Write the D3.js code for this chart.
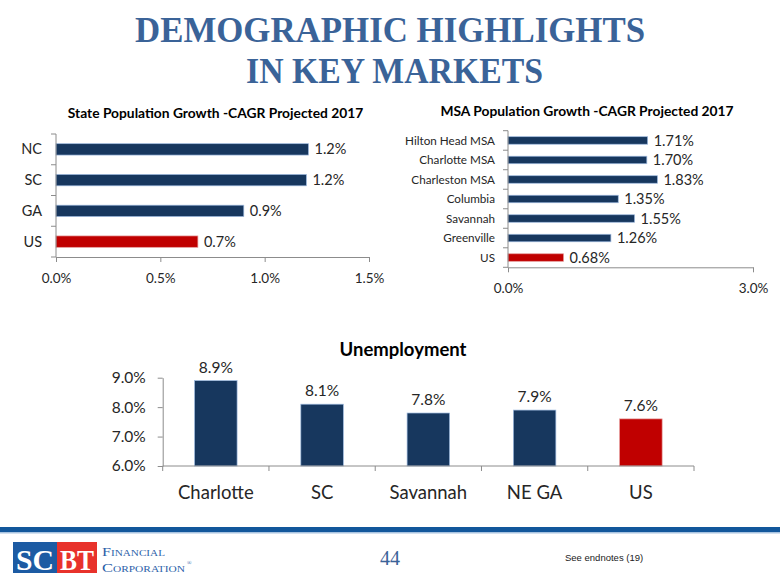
<!DOCTYPE html>
<html>
<head>
<meta charset="utf-8">
<script src="https://cdn.jsdelivr.net/npm/d3@7"></script>
<style>
  html, body { margin: 0; padding: 0; background: #fff; }
  svg { display: block; }
</style>
</head>
<body>
<svg id="chart" width="780" height="585"></svg>
<script>
// ---------- DATA ----------
const stateCats = ["NC", "SC", "GA", "US"];
const stateVals = [1.21, 1.20, 0.90, 0.68];
const stateTicks = [0, 0.5, 1.0, 1.5];

const msaCats = ["Hilton Head MSA", "Charlotte MSA", "Charleston MSA", "Columbia", "Savannah", "Greenville", "US"];
const msaVals = [1.71, 1.70, 1.83, 1.35, 1.55, 1.26, 0.68];
const msaTicks = [0, 3.0];

const unempCats = ["Charlotte", "SC", "Savannah", "NE GA", "US"];
const unempVals = [8.9, 8.1, 7.8, 7.9, 7.6];
const unempTicks = [6, 7, 8, 9];

const highlightCat = "US";

// ---------- STYLE ----------
const NAVY = "#17375e", NAVY_EDGE = "#9db9de";
const RED = "#c00000", RED_EDGE = "#e59a9a";
const AXIS = "#8c8c8c";
const TXT = "#262626";
const FONT = "Lato, 'Open Sans', sans-serif";
const TITLE_BLUE = "#3a6398";

const svg = d3.select("#chart");

// ---------- PAGE TITLE ----------
const titleG = svg.append("g").attr("font-family", "'Liberation Serif', 'Times New Roman', serif")
  .attr("font-weight", "bold").attr("fill", TITLE_BLUE).attr("text-anchor", "middle").attr("font-size", 35);
titleG.append("text").attr("x", 390).attr("y", 42)
  .attr("textLength", 510).attr("lengthAdjust", "spacingAndGlyphs").text("DEMOGRAPHIC HIGHLIGHTS");
titleG.append("text").attr("x", 394.5).attr("y", 83)
  .attr("textLength", 297).attr("lengthAdjust", "spacingAndGlyphs").text("IN KEY MARKETS");

const pct1 = d3.format(".1f");
const pct2 = d3.format(".2f");

function barColor(c) { return c === highlightCat ? RED : NAVY; }
function edgeColor(c) { return c === highlightCat ? RED_EDGE : NAVY_EDGE; }

// ---------- horizontal bar chart helper ----------
function hBar(opts) {
  const g = svg.append("g");
  const x = d3.scaleLinear().domain(opts.domain).range([opts.x0, opts.x1]);
  const y = d3.scaleBand().domain(opts.cats).range([opts.y0, opts.y1])
    .paddingInner(opts.pad).paddingOuter(opts.pad / 2);
  const data = opts.cats.map((c, i) => ({ c, v: opts.vals[i] }));

  // title
  g.append("text").attr("x", opts.titleX).attr("y", opts.titleY)
    .attr("text-anchor", "middle").attr("font-family", FONT).attr("font-weight", "bold")
    .attr("font-size", opts.titleSize).attr("fill", "#000").text(opts.title);

  // bars
  g.selectAll("rect.bar").data(data).join("rect")
    .attr("x", x(0)).attr("y", d => y(d.c))
    .attr("width", d => x(d.v) - x(0)).attr("height", y.bandwidth())
    .attr("fill", d => barColor(d.c)).attr("stroke", d => edgeColor(d.c)).attr("stroke-width", 0.7);

  // value labels
  g.selectAll("text.val").data(data).join("text")
    .attr("x", d => x(d.v) + 6).attr("y", d => y(d.c) + y.bandwidth() / 2)
    .attr("dy", "0.35em").attr("font-family", FONT).attr("font-size", opts.valSize)
    .attr("fill", TXT).text(d => opts.fmt(d.v) + "%");

  // y axis line and boundary ticks
  g.append("line").attr("x1", x(0)).attr("x2", x(0)).attr("y1", opts.y0).attr("y2", opts.y1)
    .attr("stroke", AXIS).attr("stroke-width", 1);
  const step = y.step();
  g.selectAll("line.bt").data(d3.range(opts.cats.length + 1)).join("line")
    .attr("x1", x(0) - 5).attr("x2", x(0))
    .attr("y1", i => opts.y0 + i * step).attr("y2", i => opts.y0 + i * step)
    .attr("stroke", AXIS);
  // category labels
  g.selectAll("text.cat").data(data).join("text")
    .attr("x", opts.labelX).attr("y", d => y(d.c) + y.bandwidth() / 2)
    .attr("dy", "0.35em").attr("text-anchor", "end").attr("font-family", FONT)
    .attr("font-size", opts.catSize).attr("fill", TXT).text(d => d.c);

  // x axis
  const ax = g.append("g").attr("transform", `translate(0,${opts.y1})`)
    .call(d3.axisBottom(x).tickValues(opts.ticks).tickSize(5).tickSizeOuter(0)
      .tickFormat(d => d3.format(".1f")(d) + "%"));
  ax.select(".domain").attr("stroke", AXIS);
  ax.selectAll(".tick line").attr("stroke", AXIS);
  ax.selectAll(".tick text").attr("font-family", FONT).attr("font-size", opts.tickSize)
    .attr("fill", TXT).attr("dy", null).attr("y", opts.tickY - opts.y1).attr("dominant-baseline", "central");
}

hBar({
  cats: stateCats, vals: stateVals, ticks: stateTicks, domain: [0, 1.5],
  x0: 56, x1: 369, y0: 134, y1: 257, pad: 0.63,
  title: "State Population Growth -CAGR Projected 2017", titleX: 215.5, titleY: 118, titleSize: 13.8,
  valSize: 14.5, catSize: 14.5, labelX: 42, tickSize: 13.5, tickY: 278, fmt: pct1
});

hBar({
  cats: msaCats, vals: msaVals, ticks: msaTicks, domain: [0, 3.0],
  x0: 508, x1: 753, y0: 130.7, y1: 267.3, pad: 0.615,
  title: "MSA Population Growth -CAGR Projected 2017", titleX: 587, titleY: 116, titleSize: 13.8,
  valSize: 14.5, catSize: 11.7, labelX: 495, tickSize: 13.5, tickY: 288, fmt: pct2
});

// ---------- UNEMPLOYMENT ----------
(function () {
  const g = svg.append("g");
  const x = d3.scaleBand().domain(unempCats).range([162.7, 694]).paddingInner(0.6).paddingOuter(0.3);
  const y = d3.scaleLinear().domain([6, 9]).range([466, 377.7]);
  const data = unempCats.map((c, i) => ({ c, v: unempVals[i] }));

  g.append("text").attr("x", 403).attr("y", 356).attr("text-anchor", "middle")
    .attr("font-family", FONT).attr("font-weight", "bold").attr("font-size", 18.5)
    .attr("fill", "#000").text("Unemployment");

  g.selectAll("rect").data(data).join("rect")
    .attr("x", d => x(d.c)).attr("width", x.bandwidth())
    .attr("y", d => y(d.v)).attr("height", d => y(6) - y(d.v))
    .attr("fill", d => barColor(d.c)).attr("stroke", d => edgeColor(d.c)).attr("stroke-width", 0.7);

  g.selectAll("text.val").data(data).join("text")
    .attr("x", d => x(d.c) + x.bandwidth() / 2).attr("y", d => y(d.v) - 14)
    .attr("text-anchor", "middle").attr("dominant-baseline", "central")
    .attr("font-family", FONT).attr("font-size", 15.5).attr("fill", TXT)
    .text(d => pct1(d.v) + "%");

  const ay = g.append("g").attr("transform", "translate(162.7,0)")
    .call(d3.axisLeft(y).tickValues(unempTicks).tickSize(5).tickSizeOuter(0)
      .tickFormat(d => d3.format(".1f")(d) + "%"));
  ay.select(".domain").attr("stroke", AXIS);
  ay.selectAll(".tick line").attr("stroke", AXIS);
  ay.selectAll(".tick text").attr("font-family", FONT).attr("font-size", 15.5).attr("fill", TXT)
    .attr("x", -17);

  // x axis line + boundary ticks
  g.append("line").attr("x1", 162.7).attr("x2", 694).attr("y1", y(6)).attr("y2", y(6)).attr("stroke", AXIS);
  const step = x.step();
  g.selectAll("line.bt").data(d3.range(unempCats.length + 1)).join("line")
    .attr("x1", i => 162.7 + i * step).attr("x2", i => 162.7 + i * step)
    .attr("y1", y(6)).attr("y2", y(6) + 5).attr("stroke", AXIS);

  g.selectAll("text.cat").data(data).join("text")
    .attr("x", d => x(d.c) + x.bandwidth() / 2).attr("y", 492)
    .attr("text-anchor", "middle").attr("dominant-baseline", "central")
    .attr("font-family", FONT).attr("font-size", 18.5).attr("fill", TXT).text(d => d.c);
})();

// ---------- FOOTER ----------
svg.append("rect").attr("x", 0).attr("y", 527).attr("width", 780).attr("height", 5).attr("fill", "#12579b");
svg.append("rect").attr("x", 0).attr("y", 532).attr("width", 780).attr("height", 1.5).attr("fill", "#a8c3e0");

const logo = svg.append("g");
logo.append("rect").attr("x", 13).attr("y", 542).attr("width", 44).attr("height", 31).attr("fill", "#1c5ba3");
logo.append("rect").attr("x", 57).attr("y", 542).attr("width", 40).attr("height", 31).attr("fill", "#e8322b");
logo.append("text").attr("x", 16).attr("y", 570).attr("font-family", "'Liberation Serif', serif")
  .attr("font-weight", "bold").attr("font-size", 30).attr("fill", "#fff")
  .attr("textLength", 38).attr("lengthAdjust", "spacingAndGlyphs").text("SC");
logo.append("text").attr("x", 60).attr("y", 570).attr("font-family", "'Liberation Serif', serif")
  .attr("font-weight", "bold").attr("font-size", 30).attr("fill", "#fff")
  .attr("textLength", 34).attr("lengthAdjust", "spacingAndGlyphs").text("BT");
logo.append("text").attr("x", 102).attr("y", 556).attr("font-family", "'Liberation Serif', serif")
  .attr("font-size", 13).attr("fill", "#2a5ea8").style("font-variant", "small-caps")
  .attr("textLength", 63).attr("lengthAdjust", "spacingAndGlyphs").text("Financial");
logo.append("text").attr("x", 102).attr("y", 572).attr("font-family", "'Liberation Serif', serif")
  .attr("font-size", 13).attr("fill", "#2a5ea8").style("font-variant", "small-caps")
  .attr("textLength", 83).attr("lengthAdjust", "spacingAndGlyphs").text("Corporation");
logo.append("text").attr("x", 187).attr("y", 565).attr("font-family", "'Liberation Serif', serif")
  .attr("font-size", 6).attr("fill", "#2a5ea8").text("®");

svg.append("text").attr("x", 390).attr("y", 565).attr("text-anchor", "middle")
  .attr("font-family", "'Liberation Serif', serif").attr("font-size", 20).attr("fill", TITLE_BLUE).text("44");
svg.append("text").attr("x", 565).attr("y", 557.5).attr("dominant-baseline", "central")
  .attr("font-family", "'Liberation Sans', Arial, sans-serif").attr("font-size", 9.5)
  .attr("fill", "#222").text("See endnotes (19)");
</script>
</body>
</html>
